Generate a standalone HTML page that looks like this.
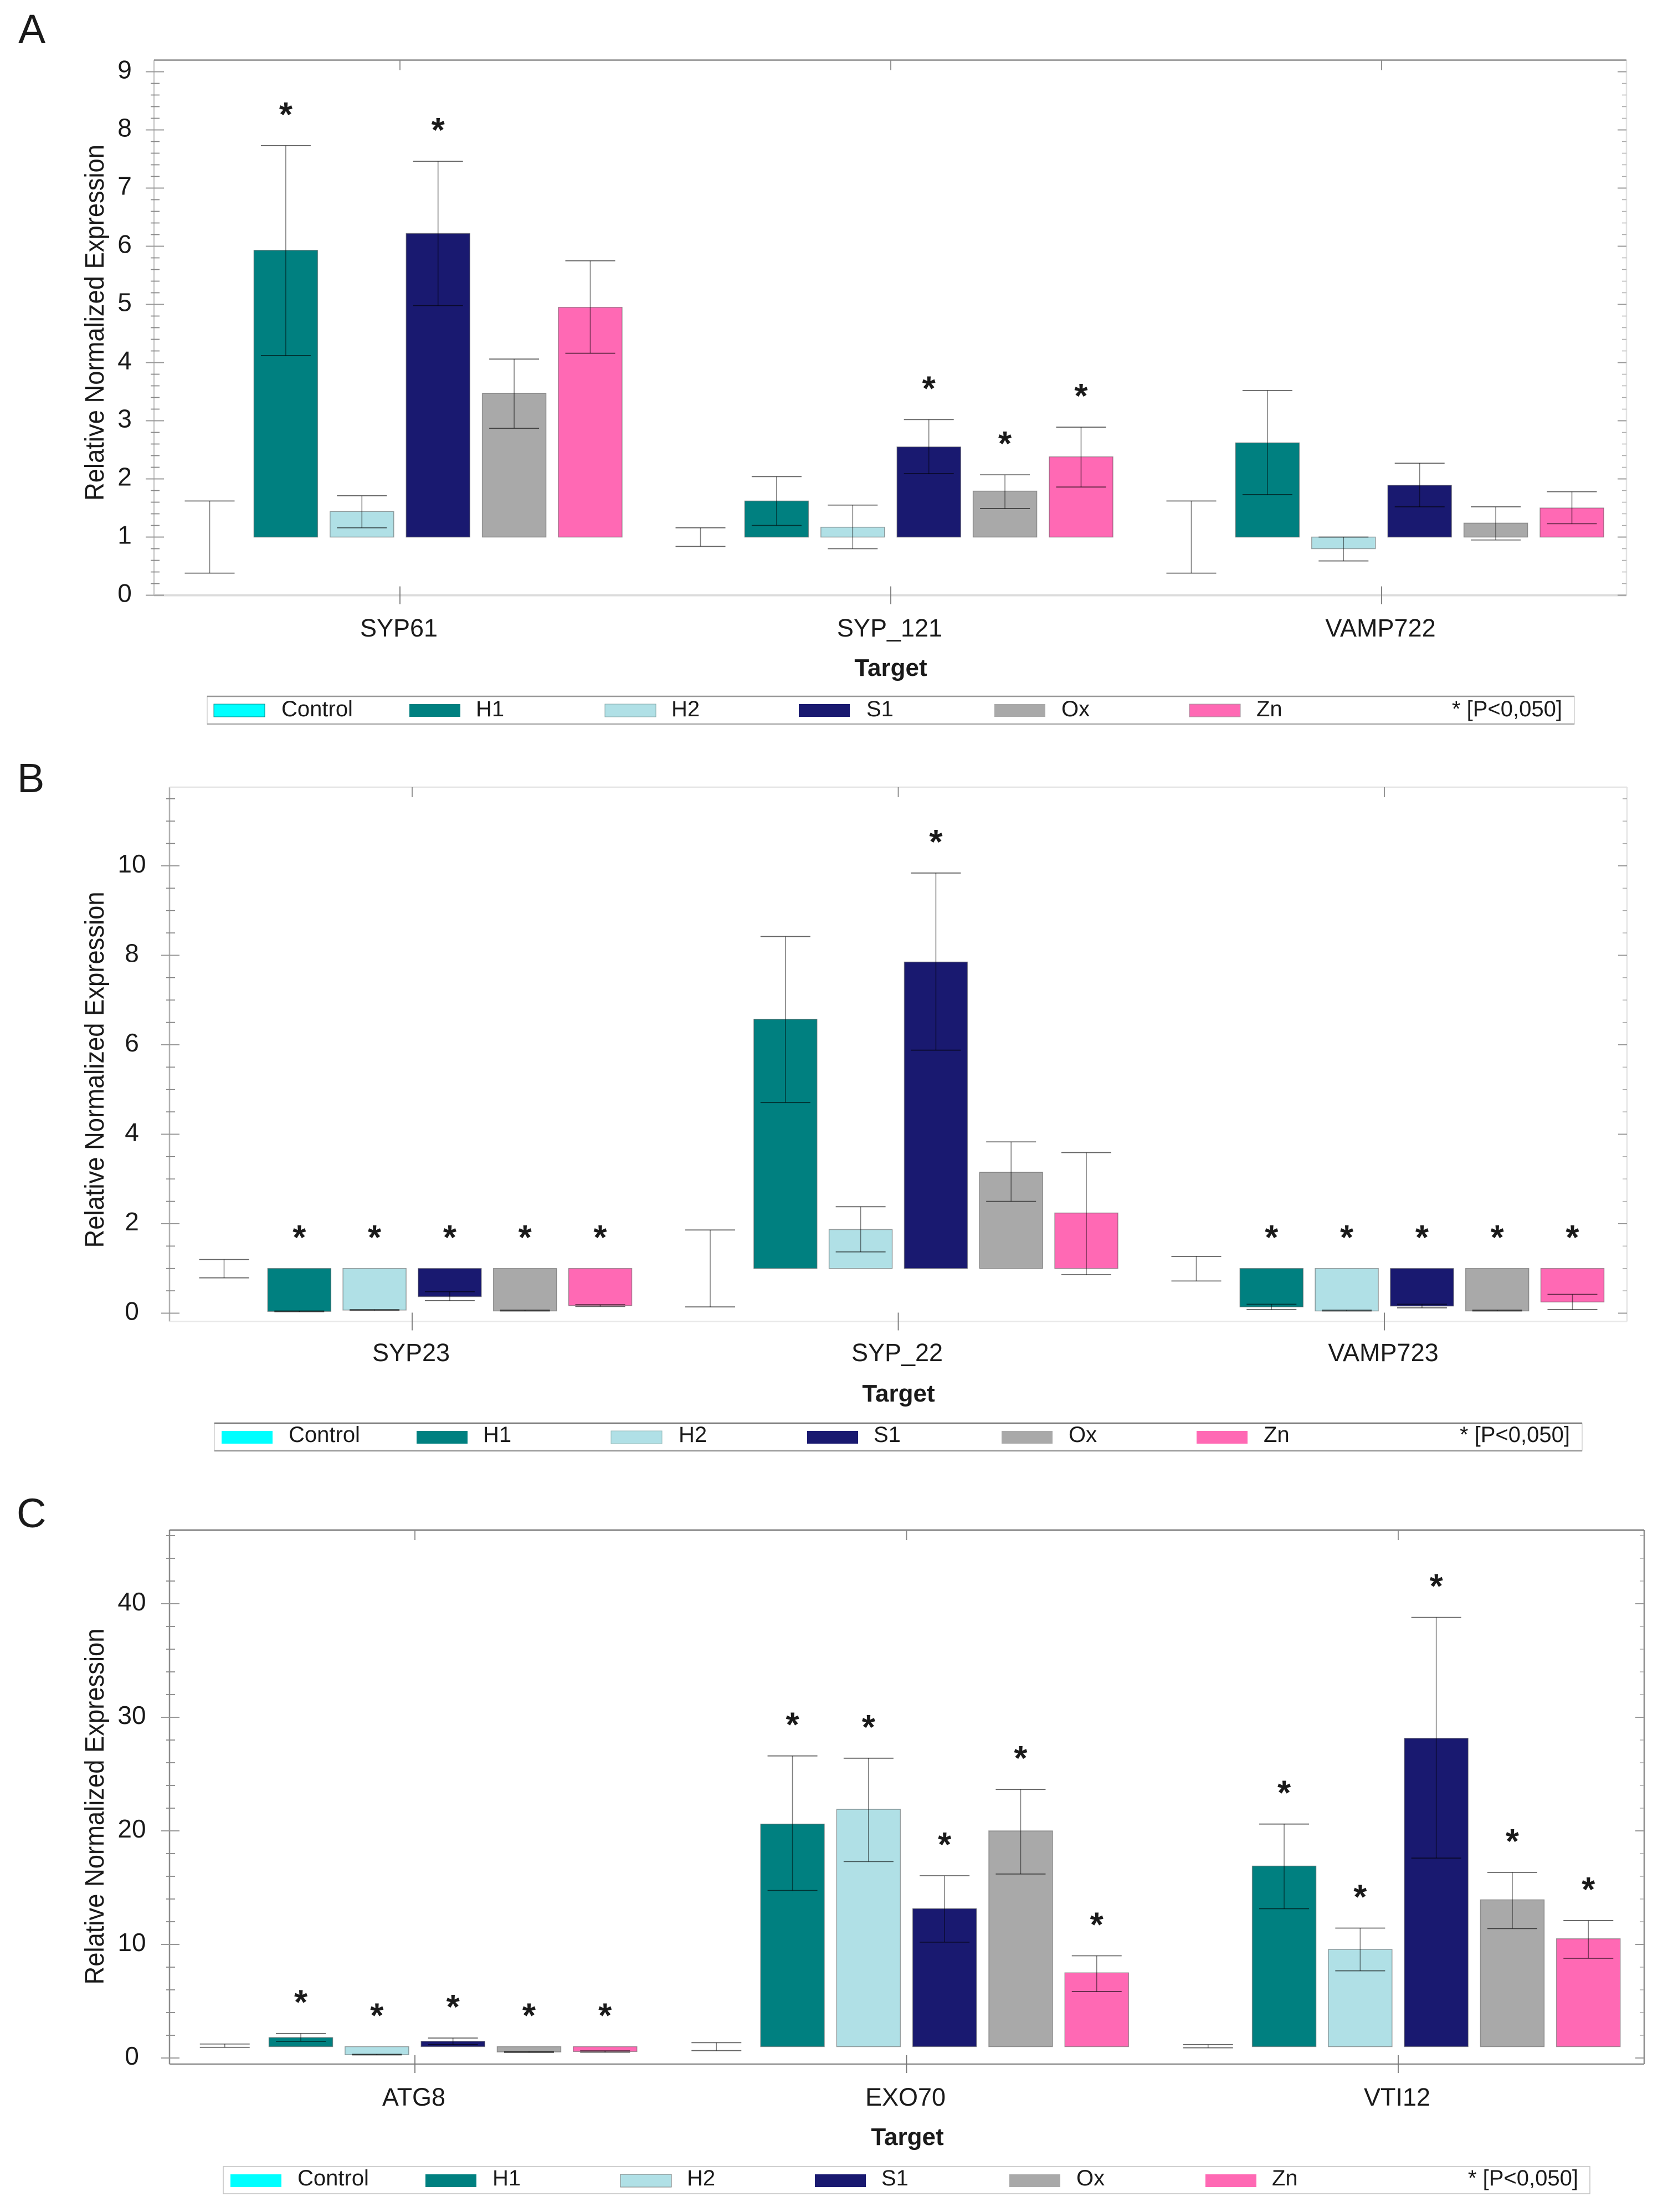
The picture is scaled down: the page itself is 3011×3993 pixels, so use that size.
<!DOCTYPE html>
<html lang="en">
<head>
<meta charset="utf-8">
<title>Relative normalized expression charts</title>
<style>
html,body{margin:0;padding:0;background:#fff;}
svg{display:block;}
text{font-family:"Liberation Sans",sans-serif;fill:#1a1a1a;}
</style>
</head>
<body>
<svg id="figure" xmlns="http://www.w3.org/2000/svg" width="3011" height="3993" viewBox="0 0 3011 3993">
<rect width="3011" height="3993" fill="#ffffff"/>

<g id="panel-a">
  <text x="33" y="78" font-size="74">A</text>
  <text transform="translate(187,582.5) rotate(-90)" text-anchor="middle" font-size="48" textLength="643" lengthAdjust="spacingAndGlyphs">Relative Normalized Expression</text>
  <text x="1608" y="1220" text-anchor="middle" font-size="44" font-weight="bold">Target</text>
  <g transform="translate(374,1257)">
    <rect x="0" y="0" width="2468" height="50" fill="#fff" stroke="#d0d0d0" stroke-width="1.5"/>
    <line x1="0" y1="0" x2="2468" y2="0" stroke="#999" stroke-width="2.5"/>
    <line x1="0" y1="50" x2="2468" y2="50" stroke="#aaa" stroke-width="2.5"/>
    <rect x="12" y="14" width="92" height="23" fill="#00FFFF" stroke="#0a8a8a" stroke-width="1"/>
    <text x="134" y="36" font-size="40">Control</text>
    <rect x="365" y="14" width="92" height="23" fill="#008080"/>
    <text x="485" y="36" font-size="40">H1</text>
    <rect x="718" y="14" width="92" height="23" fill="#B0E0E6" stroke="#8aa" stroke-width="1"/>
    <text x="838" y="36" font-size="40">H2</text>
    <rect x="1068" y="14" width="92" height="23" fill="#191970"/>
    <text x="1190" y="36" font-size="40">S1</text>
    <rect x="1421" y="14" width="92" height="23" fill="#A9A9A9"/>
    <text x="1542" y="36" font-size="40">Ox</text>
    <rect x="1773" y="14" width="92" height="23" fill="#FF69B4" stroke="#999" stroke-width="1"/>
    <text x="1894" y="36" font-size="40">Zn</text>
    <text x="2446" y="36" font-size="40" text-anchor="end">* [P&lt;0,050]</text>
  </g>
</g>

<g id="panel-b">
  <text x="31" y="1430" font-size="74">B</text>
  <text transform="translate(187,1931) rotate(-90)" text-anchor="middle" font-size="48" textLength="643" lengthAdjust="spacingAndGlyphs">Relative Normalized Expression</text>
  <text x="1622" y="2530" text-anchor="middle" font-size="44" font-weight="bold">Target</text>
  <g transform="translate(387,2569)">
    <rect x="0" y="0" width="2469" height="50" fill="#fff" stroke="#d0d0d0" stroke-width="1.5"/>
    <line x1="0" y1="0" x2="2469" y2="0" stroke="#777" stroke-width="2.5"/>
    <line x1="0" y1="50" x2="2469" y2="50" stroke="#999" stroke-width="2.5"/>
    <rect x="13" y="14" width="92" height="23" fill="#00FFFF"/>
    <text x="134" y="34" font-size="40">Control</text>
    <rect x="365" y="14" width="92" height="23" fill="#008080"/>
    <text x="485" y="34" font-size="40">H1</text>
    <rect x="716" y="14" width="92" height="23" fill="#B0E0E6" stroke="#9bb" stroke-width="1"/>
    <text x="838" y="34" font-size="40">H2</text>
    <rect x="1070" y="14" width="92" height="23" fill="#191970"/>
    <text x="1190" y="34" font-size="40">S1</text>
    <rect x="1421" y="14" width="92" height="23" fill="#A9A9A9"/>
    <text x="1542" y="34" font-size="40">Ox</text>
    <rect x="1773" y="14" width="92" height="23" fill="#FF69B4"/>
    <text x="1894" y="34" font-size="40">Zn</text>
    <text x="2447" y="34" font-size="40" text-anchor="end">* [P&lt;0,050]</text>
  </g>
</g>

<g id="panel-c">
  <text x="30" y="2757" font-size="74">C</text>
  <text transform="translate(187,3261) rotate(-90)" text-anchor="middle" font-size="48" textLength="643" lengthAdjust="spacingAndGlyphs">Relative Normalized Expression</text>
  <text x="1638" y="3872" text-anchor="middle" font-size="44" font-weight="bold">Target</text>
  <g transform="translate(403,3911)">
    <rect x="0" y="0" width="2467" height="49" fill="#fff" stroke="#c0c0c0" stroke-width="1.5"/>
    <rect x="13" y="14" width="92" height="23" fill="#00FFFF"/>
    <text x="134" y="34" font-size="40">Control</text>
    <rect x="365" y="14" width="92" height="23" fill="#008080"/>
    <text x="486" y="34" font-size="40">H1</text>
    <rect x="717" y="14" width="92" height="23" fill="#B0E0E6" stroke="#777" stroke-width="1"/>
    <text x="837" y="34" font-size="40">H2</text>
    <rect x="1068" y="14" width="92" height="23" fill="#191970"/>
    <text x="1188" y="34" font-size="40">S1</text>
    <rect x="1419" y="14" width="92" height="23" fill="#A9A9A9"/>
    <text x="1540" y="34" font-size="40">Ox</text>
    <rect x="1773" y="14" width="92" height="23" fill="#FF69B4"/>
    <text x="1893" y="34" font-size="40">Zn</text>
    <text x="2446" y="34" font-size="40" text-anchor="end">* [P&lt;0,050]</text>
  </g>
</g>
</svg>

<script>
const seriesKeys = ['control', 'h1', 'h2', 's1', 'ox', 'zn'];
const seriesColors = ['#00FFFF', '#008080', '#B0E0E6', '#191970', '#A9A9A9', '#FF69B4'];

// Panel A
const categoriesA = ['SYP61', 'SYP_121', 'VAMP722'];
const yTickLabelsA = [0, 1, 2, 3, 4, 5, 6, 7, 8, 9];
const valuesA = [
  [1, 5.93, 1.44, 6.22, 3.47, 4.95],
  [1, 1.62, 1.17, 2.55, 1.79, 2.38],
  [1, 2.62, 0.80, 1.89, 1.24, 1.50]
];
const errorHighA = [
  [1.62, 7.73, 1.71, 7.46, 4.06, 5.75],
  [1.16, 2.04, 1.55, 3.02, 2.07, 2.89],
  [1.62, 3.52, 1.00, 2.27, 1.52, 1.78]
];
const errorLowA = [
  [0.38, 4.12, 1.16, 4.98, 2.87, 4.16],
  [0.84, 1.20, 0.80, 2.09, 1.49, 1.86],
  [0.38, 1.73, 0.59, 1.52, 0.95, 1.23]
];
const significantA = [
  [0, 1, 0, 1, 0, 0],
  [0, 0, 0, 1, 1, 1],
  [0, 0, 0, 0, 0, 0]
];

// Panel B
const categoriesB = ['SYP23', 'SYP_22', 'VAMP723'];
const yTickLabelsB = [0, 2, 4, 6, 8, 10];
const valuesB = [
  [1, 0.04, 0.07, 0.37, 0.05, 0.17],
  [1, 6.57, 1.87, 7.85, 3.15, 2.24],
  [1, 0.14, 0.05, 0.16, 0.05, 0.25]
];
const errorHighB = [
  [1.20, 0.05, 0.08, 0.48, 0.07, 0.19],
  [1.86, 8.42, 2.38, 9.84, 3.83, 3.59],
  [1.27, 0.20, 0.07, 0.20, 0.07, 0.42]
];
const errorLowB = [
  [0.79, 0.03, 0.06, 0.28, 0.05, 0.15],
  [0.14, 4.71, 1.37, 5.88, 2.50, 0.86],
  [0.72, 0.08, 0.05, 0.12, 0.05, 0.08]
];
const significantB = [
  [0, 1, 1, 1, 1, 1],
  [0, 0, 0, 1, 0, 0],
  [0, 1, 1, 1, 1, 1]
];

// Panel C
const categoriesC = ['ATG8', 'EXO70', 'VTI12'];
const yTickLabelsC = [0, 10, 20, 30, 40];
const valuesC = [
  [1, 1.80, 0.29, 1.47, 0.53, 0.57],
  [1, 20.6, 21.9, 13.15, 20.0, 7.5],
  [1, 16.9, 9.56, 28.15, 13.93, 10.5]
];
const errorHighC = [
  [1.23, 2.16, 0.33, 1.76, 0.57, 0.63],
  [1.35, 26.6, 26.4, 16.05, 23.65, 9.0],
  [1.18, 20.6, 11.44, 38.8, 16.34, 12.1]
];
const errorLowC = [
  [0.94, 1.47, 0.27, 1.18, 0.49, 0.51],
  [0.65, 14.75, 17.3, 10.2, 16.2, 5.85],
  [0.90, 13.15, 7.68, 17.6, 11.4, 8.78]
];
const significantC = [
  [0, 1, 1, 1, 1, 1],
  [0, 1, 1, 1, 1, 1],
  [0, 1, 1, 1, 1, 1]
];

const SVG_NS = 'http://www.w3.org/2000/svg';

function make(tag, attrs, parent) {
  const el = document.createElementNS(SVG_NS, tag);
  for (const k in attrs) el.setAttribute(k, attrs[k]);
  parent.appendChild(el);
  return el;
}

function drawPanel(p) {
  const root = document.getElementById(p.id);
  const plot = make('g', {}, root);
  
  

  const yScale = v => p.y0 - v * p.unit;
  const xScale = (g, s) => p.x0 + g * p.groupStep + (s - 2.5) * p.barStep;
  const baseline = yScale(1);

  // frame
  const frameLeft = make('line', {x1: p.left, x2: p.left, y1: p.top, y2: p.bottom, stroke: p.frame.left, 'stroke-width': 2.5}, plot);
  
  
  const frameRight = make('line', {x1: p.right, x2: p.right, y1: p.top, y2: p.bottom, stroke: p.frame.right, 'stroke-width': 2.5}, plot);
  
  
  const frameTop = make('line', {x1: p.left, x2: p.right, y1: p.top, y2: p.top, stroke: p.frame.top, 'stroke-width': 2.5}, plot);
  
  
  const frameBottom = make('line', {x1: p.left, x2: p.right, y1: p.bottom, y2: p.bottom, stroke: p.frame.bottom, 'stroke-width': p.frame.bottomWidth}, plot);
  
  

  // minor and major y ticks on both sides
  const maxV = (p.y0 - p.top) / p.unit;
  const majorEvery = Math.round(p.majorStep / p.minorStep);
  for (let i = 0; i * p.minorStep <= maxV; i++) {
    const v = i * p.minorStep;
    const y = yScale(v);
    const major = i % majorEvery === 0;
    const tickL = make('line', {
      x1: p.left - (major ? 15 : 6), x2: p.left + (major ? 18 : 10), y1: y, y2: y,
      stroke: major ? '#999' : '#888', 'stroke-width': major ? 2 : 1.8
    }, plot);
    
    
    const tickR = make('line', {
      x1: p.right - (major ? 16 : 8), x2: p.right, y1: y, y2: y,
      stroke: major ? '#999' : '#aaa', 'stroke-width': major ? 2 : 1.5
    }, plot);
    
    
  }

  // y tick labels
  p.yLabels.forEach(v => {
    const t = make('text', {x: p.labelX, y: yScale(v) + 12, 'text-anchor': 'middle', 'font-size': 46}, plot);
    
    
    t.textContent = String(v);
  });

  // groups
  p.categories.forEach((name, g) => {
    const cx = xScale(g, 2.5);
    const topTick = make('line', {x1: cx, x2: cx, y1: p.top, y2: p.top + 18, stroke: '#888', 'stroke-width': 1.8}, plot);
    
    
    const botTick = make('line', {x1: cx, x2: cx, y1: p.bottom - 16, y2: p.bottom + 16, stroke: '#777', 'stroke-width': 1.8}, plot);
    
    
    const label = make('text', {x: cx - 2, y: p.catY, 'text-anchor': 'middle', 'font-size': 45}, plot);
    
    
    label.textContent = name;

    seriesKeys.forEach((key, s) => {
      const bx = xScale(g, s);
      const v = p.values[g][s];
      const hi = p.high[g][s];
      const lo = p.low[g][s];

      if (s > 0) {
        const yA = Math.min(yScale(v), baseline);
        const yB = Math.max(yScale(v), baseline);
        const bar = make('rect', {
          x: bx - p.barWidth / 2, y: yA, width: p.barWidth, height: yB - yA,
          fill: seriesColors[s], stroke: 'rgba(90,90,90,0.55)', 'stroke-width': 1.5
        }, plot);
        
        
      }

      const stem = make('line', {x1: bx, x2: bx, y1: yScale(hi), y2: yScale(lo), stroke: '#000', 'stroke-opacity': 0.5, 'stroke-width': 1.6}, plot);
      
      
      const capHi = make('line', {x1: bx - 45, x2: bx + 45, y1: yScale(hi), y2: yScale(hi), stroke: '#000', 'stroke-opacity': 0.6, 'stroke-width': 1.8}, plot);
      
      
      const capLo = make('line', {x1: bx - 45, x2: bx + 45, y1: yScale(lo), y2: yScale(lo), stroke: '#000', 'stroke-opacity': 0.6, 'stroke-width': 1.8}, plot);
      
      

      if (p.significant[g][s]) {
        const topV = Math.max(hi, v, 1);
        const star = make('text', {
          x: bx, y: yScale(topV) - 64 + 29, 'text-anchor': 'middle', 'font-size': 62, 'font-weight': 'bold'
        }, plot);
        
        
        star.textContent = '*';
      }
    });
  });
}

drawPanel({
  id: 'panel-a', categories: categoriesA, yLabels: yTickLabelsA,
  values: valuesA, high: errorHighA, low: errorLowA, significant: significantA,
  left: 278, right: 2936, top: 108.5, bottom: 1074.5,
  y0: 1074.5, unit: 105, minorStep: 0.2, majorStep: 1, labelX: 225,
  x0: 722, groupStep: 886, barStep: 137.4, barWidth: 115, catY: 1149,
  frame: {left: '#c8c8c8', right: '#e2e2e2', top: '#8c8c8c', bottom: '#dcdcdc', bottomWidth: 4}
});
drawPanel({
  id: 'panel-b', categories: categoriesB, yLabels: yTickLabelsB,
  values: valuesB, high: errorHighB, low: errorLowB, significant: significantB,
  left: 306, right: 2937, top: 1421, bottom: 2385.5,
  y0: 2370.5, unit: 80.75, minorStep: 0.5, majorStep: 2, labelX: 238,
  x0: 744, groupStep: 877.5, barStep: 135.8, barWidth: 114, catY: 2457,
  frame: {left: '#b0b0b0', right: '#e4e4e4', top: '#e4e4e4', bottom: '#e8e8e8', bottomWidth: 2.5}
});
drawPanel({
  id: 'panel-c', categories: categoriesC, yLabels: yTickLabelsC,
  values: valuesC, high: errorHighC, low: errorLowC, significant: significantC,
  left: 306, right: 2968, top: 2762, bottom: 3726,
  y0: 3715, unit: 20.5, minorStep: 2, majorStep: 10, labelX: 238,
  x0: 749, groupStep: 887.5, barStep: 137.3, barWidth: 115, catY: 3801,
  frame: {left: '#8c8c8c', right: '#8c8c8c', top: '#777777', bottom: '#8c8c8c', bottomWidth: 2.5}
});
</script>
</body>
</html>
